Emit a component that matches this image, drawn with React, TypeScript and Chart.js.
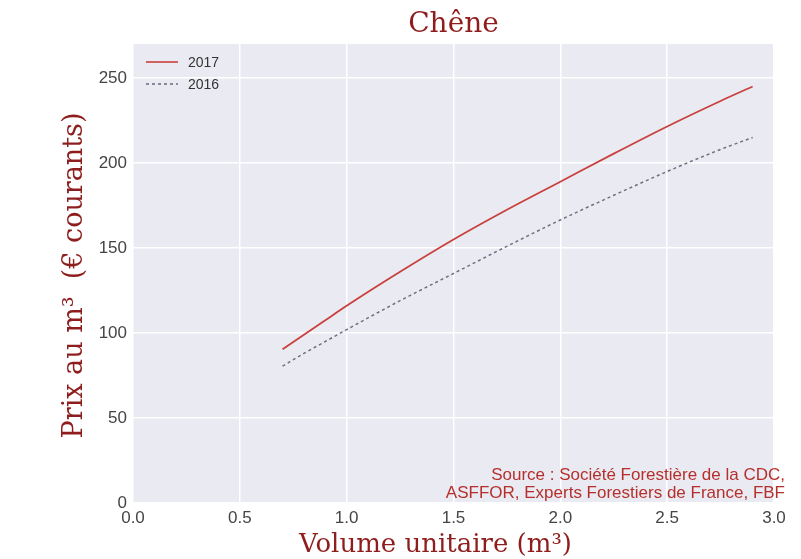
import React, { useEffect, useRef } from "react";
import { Chart, registerables } from "chart.js";

Chart.register(...registerables);

const volumes = [0.7, 0.8, 0.9, 1.0, 1.25, 1.5, 1.75, 2.0, 2.25, 2.5, 2.75, 2.9];
const prix2017 = [90.5, 99, 107.5, 116, 136, 155, 172.5, 189, 205.5, 221.5, 236.5, 245];
const prix2016 = [80.5, 88, 95, 102, 119, 135, 151, 166.5, 181, 195, 208, 215];
const seriesLabels = ["2017", "2016"];
const yTickValues = [0, 50, 100, 150, 200, 250];
const titleText = "Chêne";
const xTitle = "Volume unitaire (m³)";
const yTitle = "Prix au m³  (€ courants)";
const sourceLines = ["Source : Société Forestière de la CDC,", "ASFFOR, Experts Forestiers de France, FBF"];

const RED = "#c9403c";
const GREY = "#6b7080";
const TXT_RED = "#8e1e1e";

const decorPlugin = {
  id: "decor",
  beforeDraw(chart: any) {
    const { ctx, chartArea } = chart;
    ctx.save();
    ctx.fillStyle = "#eaeaf2";
    ctx.fillRect(chartArea.left, chartArea.top, chartArea.right - chartArea.left, chartArea.bottom - chartArea.top);
    ctx.restore();
  },
  afterDraw(chart: any) {
    const { ctx, chartArea } = chart;
    const cx = (chartArea.left + chartArea.right) / 2;
    const cy = (chartArea.top + chartArea.bottom) / 2;
    ctx.save();
    // title
    ctx.fillStyle = TXT_RED;
    ctx.font = "28px 'DejaVu Serif'";
    ctx.textAlign = "center";
    ctx.textBaseline = "middle";
    ctx.fillText(titleText, cx, 25);
    // x title
    ctx.font = "26px 'DejaVu Serif'";
    ctx.fillText(xTitle, cx - 18, 545);
    // y title
    ctx.save();
    ctx.translate(75, cy + 2);
    ctx.rotate(-Math.PI / 2);
    ctx.font = "27px 'DejaVu Serif'";
    ctx.fillText(yTitle, 0, 0);
    ctx.restore();
    // legend
    const lx = chartArea.left + 13;
    ctx.lineWidth = 1.6;
    ctx.strokeStyle = RED;
    ctx.setLineDash([]);
    ctx.beginPath();
    ctx.moveTo(lx, 62);
    ctx.lineTo(lx + 32, 62);
    ctx.stroke();
    ctx.strokeStyle = GREY;
    ctx.setLineDash([3, 3]);
    ctx.beginPath();
    ctx.moveTo(lx, 84);
    ctx.lineTo(lx + 32, 84);
    ctx.stroke();
    ctx.setLineDash([]);
    ctx.fillStyle = "#333";
    ctx.font = "14px 'Liberation Sans'";
    ctx.textAlign = "left";
    ctx.fillText(seriesLabels[0], lx + 42, 63);
    ctx.fillText(seriesLabels[1], lx + 42, 85);
    // source
    ctx.fillStyle = "#b5302c";
    ctx.font = "17px 'Liberation Sans'";
    ctx.textAlign = "right";
    ctx.fillText(sourceLines[0], 785, 475);
    ctx.fillText(sourceLines[1], 785, 493);
    ctx.restore();
  },
};

export default function App() {
  const ref = useRef<HTMLCanvasElement>(null);
  useEffect(() => {
    if (!ref.current) return;
    const chart = new Chart(ref.current, {
      type: "line",
      data: {
        datasets: [
          {
            label: seriesLabels[0],
            data: volumes.map((v, i) => ({ x: v, y: prix2017[i] })),
            borderColor: RED,
            borderWidth: 1.8,
            pointRadius: 0,
            cubicInterpolationMode: "monotone",
          },
          {
            label: seriesLabels[1],
            data: volumes.map((v, i) => ({ x: v, y: prix2016[i] })),
            borderColor: GREY,
            borderWidth: 1.5,
            borderDash: [3, 3],
            pointRadius: 0,
            cubicInterpolationMode: "monotone",
          },
        ],
      },
      options: {
        responsive: false,
        animation: false,
        layout: { padding: { top: 44, right: 27, left: 0, bottom: 0 } },
        plugins: { legend: { display: false }, title: { display: false }, tooltip: { enabled: false } },
        scales: {
          x: {
            type: "linear",
            min: 0,
            max: 3,
            border: { display: false },
            grid: { color: "#ffffff", lineWidth: 1.5, drawTicks: false },
            ticks: {
              stepSize: 0.5,
              padding: 5,
              color: "#454545",
              font: { family: "'Liberation Sans'", size: 17 },
              callback: (v: any) => Number(v).toFixed(1),
            },
            afterFit: (s: any) => { s.height = 56; },
          },
          y: {
            type: "linear",
            min: 0,
            max: 270,
            border: { display: false },
            grid: { color: "#ffffff", lineWidth: 1.5, drawTicks: false },
            afterBuildTicks: (s: any) => { s.ticks = yTickValues.map((v) => ({ value: v })); },
            ticks: {
              padding: 6,
              color: "#454545",
              font: { family: "'Liberation Sans'", size: 17 },
            },
            afterFit: (s: any) => { s.width = 133; },
          },
        },
      },
      plugins: [decorPlugin],
    } as any);
    return () => chart.destroy();
  }, []);
  return (
    <div style={{ position: "absolute", left: 0, top: 0, width: 801, height: 559, background: "#fff" }}>
      <canvas ref={ref} width={801} height={559} style={{ width: 801, height: 559, display: "block" }} />
    </div>
  );
}
